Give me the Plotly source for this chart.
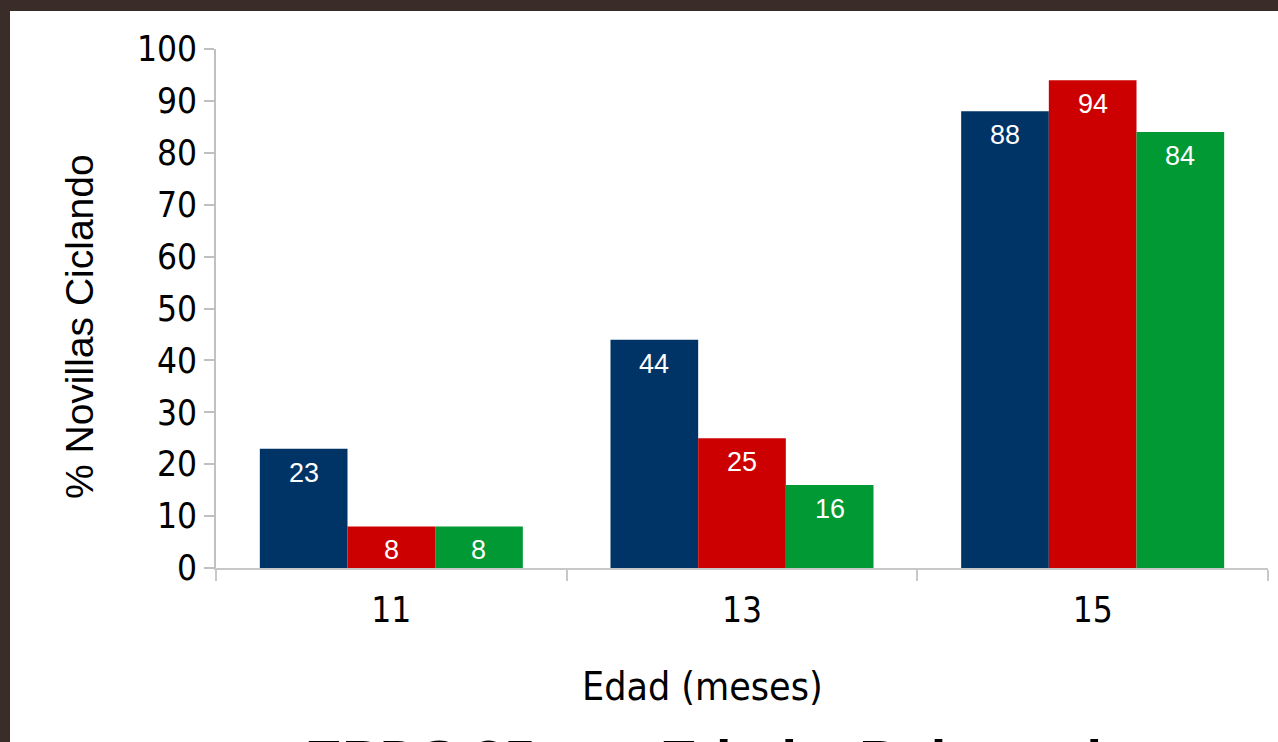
import plotly.graph_objects as go

# Edad (meses) por grupo y porcentaje de novillas ciclando
edades = ["11", "13", "15"]
serie_azul = [23, 44, 88]
serie_roja = [8, 25, 94]
serie_verde = [8, 16, 84]

colores = ["#003366", "#CC0000", "#009933"]
series = [serie_azul, serie_roja, serie_verde]

W, H = 1278, 742
# plot area in pixels
x0, x1 = 216, 1268
y_top, y_bot = 49, 568

font_num = "DejaVu Sans Condensed, DejaVu Sans, sans-serif"
font_lbl = "Liberation Sans, Arial, sans-serif"

fig = go.Figure()
for vals, col in zip(series, colores):
    fig.add_trace(go.Bar(x=edades, y=vals, marker=dict(color=col, line=dict(width=0)),
                         showlegend=False, hoverinfo="skip"))

# value labels inside the bars, just below the top
cat_w = (x1 - x0) / len(edades)
bar_w = cat_w * 0.75 / 3
annotations = []
for k, (vals, col) in enumerate(zip(series, colores)):
    for i, v in enumerate(vals):
        annotations.append(dict(x=i, y=v, xref="x", yref="y", text=str(v), showarrow=False,
                                xshift=(k - 1) * bar_w, yshift=-24, yanchor="middle",
                                font=dict(family=font_lbl, size=27, color="white")))

# axis titles
annotations.append(dict(x=79 / W, y=1 - 327 / H, xref="paper", yref="paper",
                        xanchor="center", yanchor="middle",
                        text="% Novillas Ciclando", textangle=-90, showarrow=False,
                        font=dict(family=font_lbl, size=39, color="black")))
annotations.append(dict(x=703 / W, y=1 - 686 / H, xref="paper", yref="paper",
                        xanchor="center", yanchor="middle",
                        text="Edad (meses)", showarrow=False,
                        font=dict(family=font_num, size=39, color="black")))

# caption below the chart, only its top edge shows
annotations.append(dict(x=303 / W, y=1 - 726 / H, xref="paper", yref="paper",
                        xanchor="left", yanchor="top", text="<b>EPDS 25</b>", showarrow=False,
                        font=dict(family=font_lbl, size=56, color="black")))
annotations.append(dict(x=658 / W, y=1 - 726 / H, xref="paper", yref="paper",
                        xanchor="left", yanchor="top", text="<b>Edad a Pubertad</b>", showarrow=False,
                        font=dict(family=font_lbl, size=56, color="black")))

fig.update_layout(
    width=W, height=H,
    margin=dict(l=0, r=0, t=0, b=0, autoexpand=False),
    paper_bgcolor="#3a2d29",
    plot_bgcolor="white",
    barmode="group",
    bargap=0.25,
    bargroupgap=0,
    shapes=[dict(type="rect", xref="paper", yref="paper", x0=10 / W, x1=1, y0=0, y1=1 - 11 / H,
                 fillcolor="white", line=dict(width=0), layer="below")],
    annotations=annotations,
    xaxis=dict(domain=[x0 / W, x1 / W], type="category", range=[-0.5, 2.5], automargin=False,
               showgrid=False, showline=True, linecolor="#c8c8c8", linewidth=2,
               ticks="outside", tickson="boundaries", ticklen=11, tickcolor="#c8c8c8", tickwidth=2,
               ticklabelstandoff=10,
               tickfont=dict(family=font_num, size=35, color="black"), fixedrange=True),
    yaxis=dict(domain=[1 - y_bot / H, 1 - y_top / H], range=[0, 100], dtick=10, automargin=False,
               showgrid=False, zeroline=False,
               showline=True, linecolor="#c0c0c0", linewidth=2,
               ticks="outside", ticklen=10, tickcolor="#c0c0c0", tickwidth=2,
               tickfont=dict(family=font_num, size=35, color="black"), fixedrange=True),
)

fig.write_html("out.html")
